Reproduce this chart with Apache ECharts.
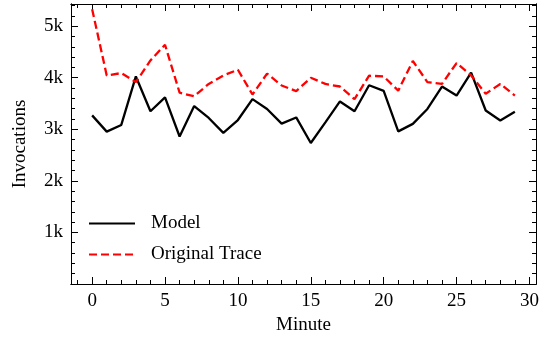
<!DOCTYPE html>
<html>
<head>
<meta charset="utf-8">
<script src="https://cdn.jsdelivr.net/npm/echarts@6/dist/echarts.min.js"></script>
<style>
  html, body { margin: 0; padding: 0; background: #fff; }
  #chart { width: 549px; height: 343px; }
</style>
</head>
<body>
<div id="chart"></div>
<script>
var minutes = [0,1,2,3,4,5,6,7,8,9,10,11,12,13,14,15,16,17,18,19,20,21,22,23,24,25,26,27,28,29];
var modelValues = [3270,2955,3085,4025,3350,3620,2860,3450,3220,2930,3180,3585,3395,3110,3230,
                   2735,3135,3540,3350,3855,3745,2960,3105,3395,3830,3655,4100,3365,3170,3340];
var traceValues = [5330,4045,4090,3915,4335,4640,3710,3640,3880,4045,4155,3675,4080,3850,3740,
                   4000,3880,3830,3585,4040,4025,3750,4325,3915,3880,4285,4045,3690,3880,3655];
var xMajorTicks = [0,5,10,15,20,25,30];
var yMajorTicks = [1000,2000,3000,4000,5000];

var chartDom = document.getElementById('chart');
var myChart = echarts.init(chartDom);
var option;

var font = 'Liberation Serif';
var xMinor = [], yMinor = [];
for (var i = -1; i <= 30; i++) xMinor.push(i);
for (var v = 0; v <= 5400; v += 200) yMinor.push(v);

function pairs(ys) {
  return minutes.map(function (m, i) { return [m, ys[i]]; });
}

function xAxisOf(pos, ticks, len, withLabels) {
  return {
    type: 'value', position: pos, min: -1.45, max: 30.45,
    axisLine: { show: true, onZero: false, lineStyle: { color: '#000', width: 1 } },
    axisTick: { show: true, inside: true, length: len, customValues: ticks, lineStyle: { color: '#000', width: 1 } },
    axisLabel: withLabels ? { show: true, customValues: ticks, margin: 8, color: '#000', fontSize: 19, fontFamily: font } : { show: false },
    splitLine: { show: false },
    name: withLabels ? 'Minute' : '',
    nameLocation: 'middle', nameGap: 32,
    nameTextStyle: { color: '#000', fontSize: 19, fontFamily: font }
  };
}

function yAxisOf(pos, ticks, len, withLabels) {
  return {
    type: 'value', position: pos, min: 0, max: 5430,
    axisLine: { show: true, onZero: false, lineStyle: { color: '#000', width: 1 } },
    axisTick: { show: true, inside: true, length: len, customValues: ticks, lineStyle: { color: '#000', width: 1 } },
    axisLabel: withLabels ? {
      show: true, customValues: yMajorTicks, margin: 8, color: '#000', fontSize: 19, fontFamily: font,
      formatter: function (v) { return (v / 1000) + 'k'; }
    } : { show: false },
    splitLine: { show: false },
    name: withLabels ? 'Invocations' : '',
    nameLocation: 'middle', nameGap: 41,
    nameTextStyle: { color: '#000', fontSize: 19, fontFamily: font }
  };
}

option = {
  animation: false,
  backgroundColor: '#fff',
  grid: { left: 71, right: 13, top: 4, bottom: 59 },
  xAxis: [
    xAxisOf('bottom', xMajorTicks, 7, true),
    xAxisOf('bottom', xMinor, 4, false),
    xAxisOf('top', xMajorTicks, 7, false),
    xAxisOf('top', xMinor, 4, false)
  ],
  yAxis: [
    yAxisOf('left', [0].concat(yMajorTicks), 7, true),
    yAxisOf('left', yMinor, 4, false),
    yAxisOf('right', [0].concat(yMajorTicks), 7, false),
    yAxisOf('right', yMinor, 4, false)
  ],
  legend: {
    show: true,
    orient: 'vertical',
    left: 83, top: 209,
    itemWidth: 46, itemHeight: 14, itemGap: 12,
    itemStyle: { opacity: 0 },
    textStyle: { color: '#000', fontSize: 19, fontFamily: font, padding: [0, 0, 0, 11] },
    data: ['Model', 'Original Trace']
  },
  series: [
    {
      name: 'Model', type: 'line', xAxisIndex: 0, yAxisIndex: 0,
      data: pairs(modelValues), showSymbol: false, symbol: 'none',
      lineStyle: { color: '#000', width: 2.3 },
      itemStyle: { color: '#000' }
    },
    {
      name: 'Original Trace', type: 'line', xAxisIndex: 0, yAxisIndex: 0,
      data: pairs(traceValues), showSymbol: false, symbol: 'none',
      lineStyle: { color: '#ff0000', width: 2.3, type: [8, 4] },
      itemStyle: { color: '#ff0000' }
    }
  ]
};

option && myChart.setOption(option);
</script>
</body>
</html>
